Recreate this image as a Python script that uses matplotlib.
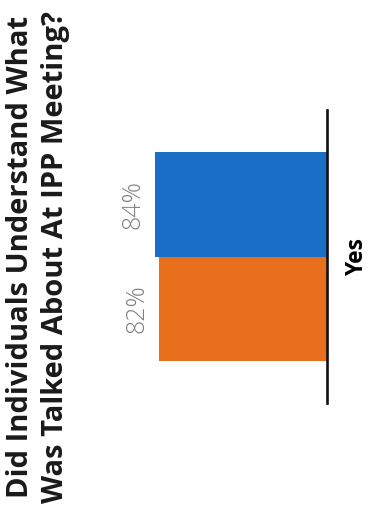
import matplotlib
matplotlib.use("Agg")
import matplotlib.pyplot as plt

categories = ["Yes"]
series_names = ["Group 1", "Group 2"]
values = [84, 82]
labels = ["84%", "82%"]
colors = ["#1a6ec6", "#e8701c"]
title = "Did Individuals Understand What\nWas Talked About At IPP Meeting?"

fig = plt.figure(figsize=(3.7, 5.2), dpi=100)
fig.patch.set_facecolor("white")
ax = fig.add_axes([122/370, 1 - 403/520, 205/370, 293/520])

positions = [0.5, -0.5]
for pos, v, c, lab in zip(positions, values, colors, labels):
    ax.barh(pos, v, height=1.0, color=c)
    ax.annotate(lab, xy=(v, pos), xytext=(-16, 0), textcoords="offset points",
                rotation=90, ha="center", va="center", color="#808080",
                fontsize=18, family="Open Sans", fontweight="light")

ax.set_xlim(100, 0)
ax.set_ylim(-1.4, 1.4)
for s in ["top", "bottom", "left"]:
    ax.spines[s].set_visible(False)
ax.spines["right"].set_linewidth(1.9)
ax.spines["right"].set_color("#111111")
ax.set_xticks([])
ax.yaxis.tick_right()
ax.set_yticks([0], categories)
ax.tick_params(axis="y", length=0, pad=13)
for t in ax.get_yticklabels():
    t.set_rotation(90)
    t.set_va("center")
    t.set_ha("left")
    t.set_fontsize(16.5)
    t.set_fontweight("bold")
    t.set_family("Open Sans")

fig.text(0.103, 0.506, title, rotation=90, ha="center", va="center",
         multialignment="center", fontsize=21, fontweight="bold",
         family="Open Sans", color="#1a1a1a", linespacing=1.25)

fig.savefig("out.png", dpi=100, facecolor="white")
